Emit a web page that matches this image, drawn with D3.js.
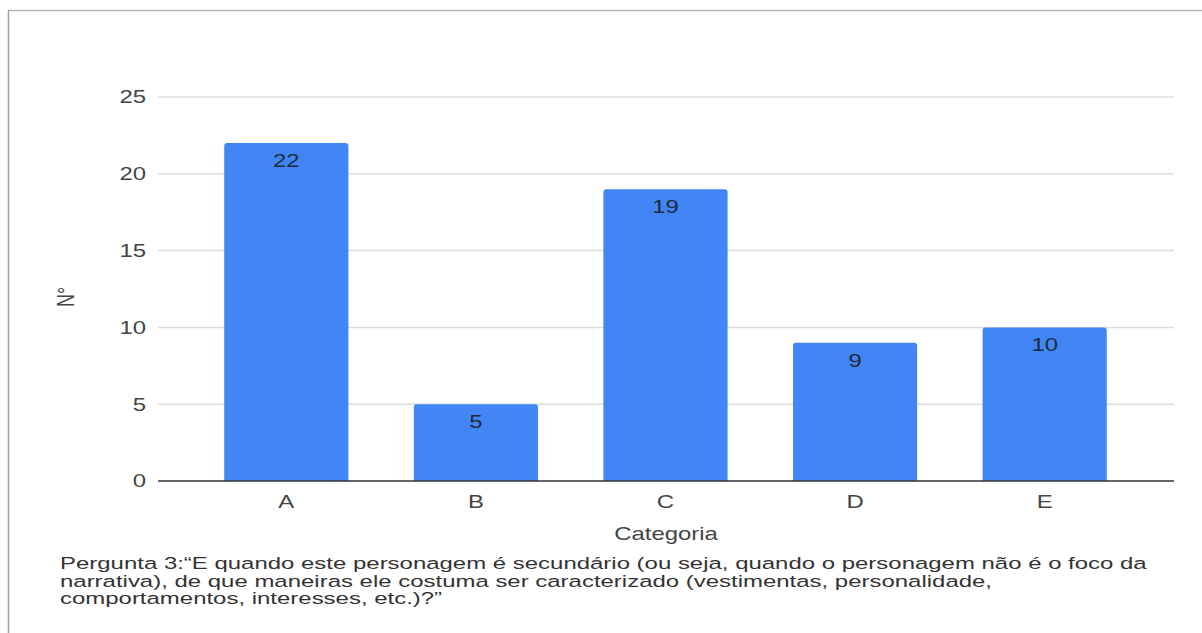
<!DOCTYPE html>
<html>
<head>
<meta charset="utf-8">
<script src="https://cdn.jsdelivr.net/npm/d3@7"></script>
<style>
  body { margin: 0; background: #fff; }
  svg { display: block; font-family: "Liberation Sans", Arial, sans-serif; }
</style>
</head>
<body>
<div id="chart"></div>
<script>
// Chart data
var categories = ["A", "B", "C", "D", "E"],
    values = [22, 5, 19, 9, 10],
    yTicks = [0, 5, 10, 15, 20, 25],
    captionLines = [
        "Pergunta 3:\u201cE quando este personagem é secundário (ou seja, quando o personagem não é o foco da",
        "narrativa), de que maneiras ele costuma ser caracterizado (vestimentas, personalidade,",
        "comportamentos, interesses, etc.)?\u201d"
    ];

var w = 1202,
    h = 633,
    // the source picture is stretched sideways, so text is too
    sx = 1.33;

var svg = d3.select("#chart")
    .append("svg")
    .attr("width", w)
    .attr("height", h);

// Frame: top and left border lines
svg.append("line")
    .attr("x1", 8).attr("x2", w).attr("y1", 10.5).attr("y2", 10.5)
    .attr("stroke", "#b5b5b5").attr("stroke-width", 1.5);
svg.append("line")
    .attr("x1", 8.5).attr("x2", 8.5).attr("y1", 10).attr("y2", h)
    .attr("stroke", "#a0a0a0").attr("stroke-width", 1.5);

// Scales
var x = d3.scaleBand()
    .domain(categories)
    .range([192, 1139])
    .paddingInner(0.345)
    .paddingOuter(0.17);

var y = d3.scaleLinear()
    .domain([0, 25])
    .range([481, 97]);

var gridLeft = 158,
    gridRight = 1174;

function place(px, py, s) {
    return "translate(" + px + "," + py + ") scale(" + (s || sx) + ",1)";
}

// Gridlines
svg.append("g")
    .selectAll("line")
    .data(yTicks.filter(function (d) { return d > 0; }))
    .enter()
    .append("line")
    .attr("x1", gridLeft)
    .attr("x2", gridRight)
    .attr("y1", function (d) { return y(d); })
    .attr("y2", function (d) { return y(d); })
    .attr("stroke", "#dcdcdc")
    .attr("stroke-width", 1.5);

// Y tick labels
svg.append("g")
    .selectAll("text")
    .data(yTicks)
    .enter()
    .append("text")
    .attr("transform", function (d) { return place(146, y(d)); })
    .attr("dy", "0.35em")
    .attr("text-anchor", "end")
    .attr("font-size", 18)
    .attr("fill", "#444")
    .text(function (d) { return d; });

// Bars
svg.append("g")
    .selectAll("path")
    .data(values)
    .enter()
    .append("path")
    .attr("fill", "#4285f4")
    .attr("d", function (d, i) {
        var x0 = x(categories[i]),
            x1 = x0 + x.bandwidth(),
            y0 = y(0),
            y1 = y(d),
            r = 3;
        return "M" + x0 + "," + y0 +
            "V" + (y1 + r) +
            "Q" + x0 + "," + y1 + " " + (x0 + r) + "," + y1 +
            "H" + (x1 - r) +
            "Q" + x1 + "," + y1 + " " + x1 + "," + (y1 + r) +
            "V" + y0 + "Z";
    });

// Value labels inside bars
svg.append("g")
    .selectAll("text")
    .data(values)
    .enter()
    .append("text")
    .attr("transform", function (d, i) {
        return place(x(categories[i]) + x.bandwidth() / 2, y(d) + 24);
    })
    .attr("text-anchor", "middle")
    .attr("font-size", 18)
    .attr("fill", "#1f2a3a")
    .text(function (d) { return d; });

// Baseline
svg.append("line")
    .attr("x1", gridLeft)
    .attr("x2", gridRight)
    .attr("y1", y(0))
    .attr("y2", y(0))
    .attr("stroke", "#333")
    .attr("stroke-width", 1.5);

// X category labels
svg.append("g")
    .selectAll("text")
    .data(categories)
    .enter()
    .append("text")
    .attr("transform", function (d) { return place(x(d) + x.bandwidth() / 2, 508); })
    .attr("text-anchor", "middle")
    .attr("font-size", 18)
    .attr("fill", "#444")
    .text(function (d) { return d; });

// Axis titles
svg.append("text")
    .attr("transform", place(666, 540))
    .attr("text-anchor", "middle")
    .attr("font-size", 18)
    .attr("fill", "#444")
    .text("Categoria");

svg.append("text")
    .attr("transform", place(74, 297) + " rotate(-90)")
    .attr("text-anchor", "middle")
    .attr("font-size", 18)
    .attr("fill", "#444")
    .text("N°");

// Caption below the chart
svg.append("g")
    .selectAll("text")
    .data(captionLines)
    .enter()
    .append("text")
    .attr("transform", function (d, i) { return place(60, 569 + i * 17.5, 1.41); })
    .attr("font-size", 17)
    .attr("fill", "#333")
    .text(function (d) { return d; });
</script>
</body>
</html>
